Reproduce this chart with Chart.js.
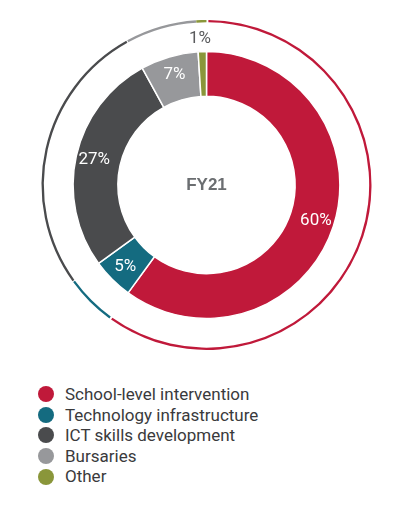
<!DOCTYPE html>
<html>
<head>
<meta charset="utf-8">
<script src="https://cdn.jsdelivr.net/npm/chart.js@4"></script>
<style>
  body { margin: 0; background: #fff; font-family: 'Liberation Sans Narrow', 'Roboto', sans-serif; }
  #wrap { position: relative; width: 417px; height: 370px; }
  #legend { list-style: none; margin: 0; padding: 0; position: absolute; left: 38px; top: 384px; }
  #legend li { height: 20.6px; line-height: 20.6px; font-size: 17px; color: #3a3a3c; display: flex; align-items: center; }
  #legend span.dot { width: 16px; height: 16px; border-radius: 50%; margin-right: 11px; display: inline-block; }
</style>
</head>
<body>
<div id="wrap"><canvas id="chart" width="417" height="370"></canvas></div>
<ul id="legend"></ul>
<script>
const categories = ['School-level intervention', 'Technology infrastructure', 'ICT skills development', 'Bursaries', 'Other'];
const values = [60, 5, 27, 7, 1];
const colors = ['#c0193a', '#146b80', '#4a4b4d', '#97989b', '#8a963a'];
const centerLabel = 'FY21';

const legend = document.getElementById('legend');
categories.forEach((c, i) => {
  const li = document.createElement('li');
  li.innerHTML = '<span class="dot" style="background:' + colors[i] + '"></span>' + c;
  legend.appendChild(li);
});

const labelPlugin = {
  id: 'labels',
  afterDraw(chart) {
    const ctx = chart.ctx;
    const meta = chart.getDatasetMeta(2);
    ctx.save();
    ctx.textAlign = 'center';
    ctx.textBaseline = 'middle';
    ctx.font = '17px "Liberation Sans Narrow", Roboto, sans-serif';
    meta.data.forEach((arc, i) => {
      const mid = (arc.startAngle + arc.endAngle) / 2;
      let r = (arc.innerRadius + arc.outerRadius) / 2 + 4;
      ctx.fillStyle = '#fff';
      if (values[i] < 3) { r = arc.outerRadius + 13; ctx.fillStyle = '#5a5b5d'; }
      ctx.fillText(values[i] + '%', arc.x + Math.cos(mid) * r - (values[i] < 3 ? 2 : 0), arc.y + Math.sin(mid) * r);
    });
    ctx.font = 'bold 17px "Liberation Sans", Arial, sans-serif';
    ctx.fillStyle = '#6b6e71';
    ctx.fillText(centerLabel, meta.data[0].x, meta.data[0].y);
    ctx.restore();
  }
};

new Chart(document.getElementById('chart'), {
  type: 'doughnut',
  data: {
    labels: categories,
    datasets: [
      { data: values, backgroundColor: colors, borderWidth: 0, spacing: 2, weight: 2 },
      { data: values, backgroundColor: 'rgba(0,0,0,0)', borderWidth: 0, weight: 24 },
      { data: values, backgroundColor: colors, borderColor: '#fff', borderWidth: 1.5, weight: 38 }
    ]
  },
  options: {
    responsive: false,
    animation: false,
    radius: 164,
    cutout: 100,
    layout: { padding: { right: 4 } },
    plugins: { legend: { display: false }, tooltip: { enabled: false } }
  },
  plugins: [labelPlugin]
});
</script>
</body>
</html>
